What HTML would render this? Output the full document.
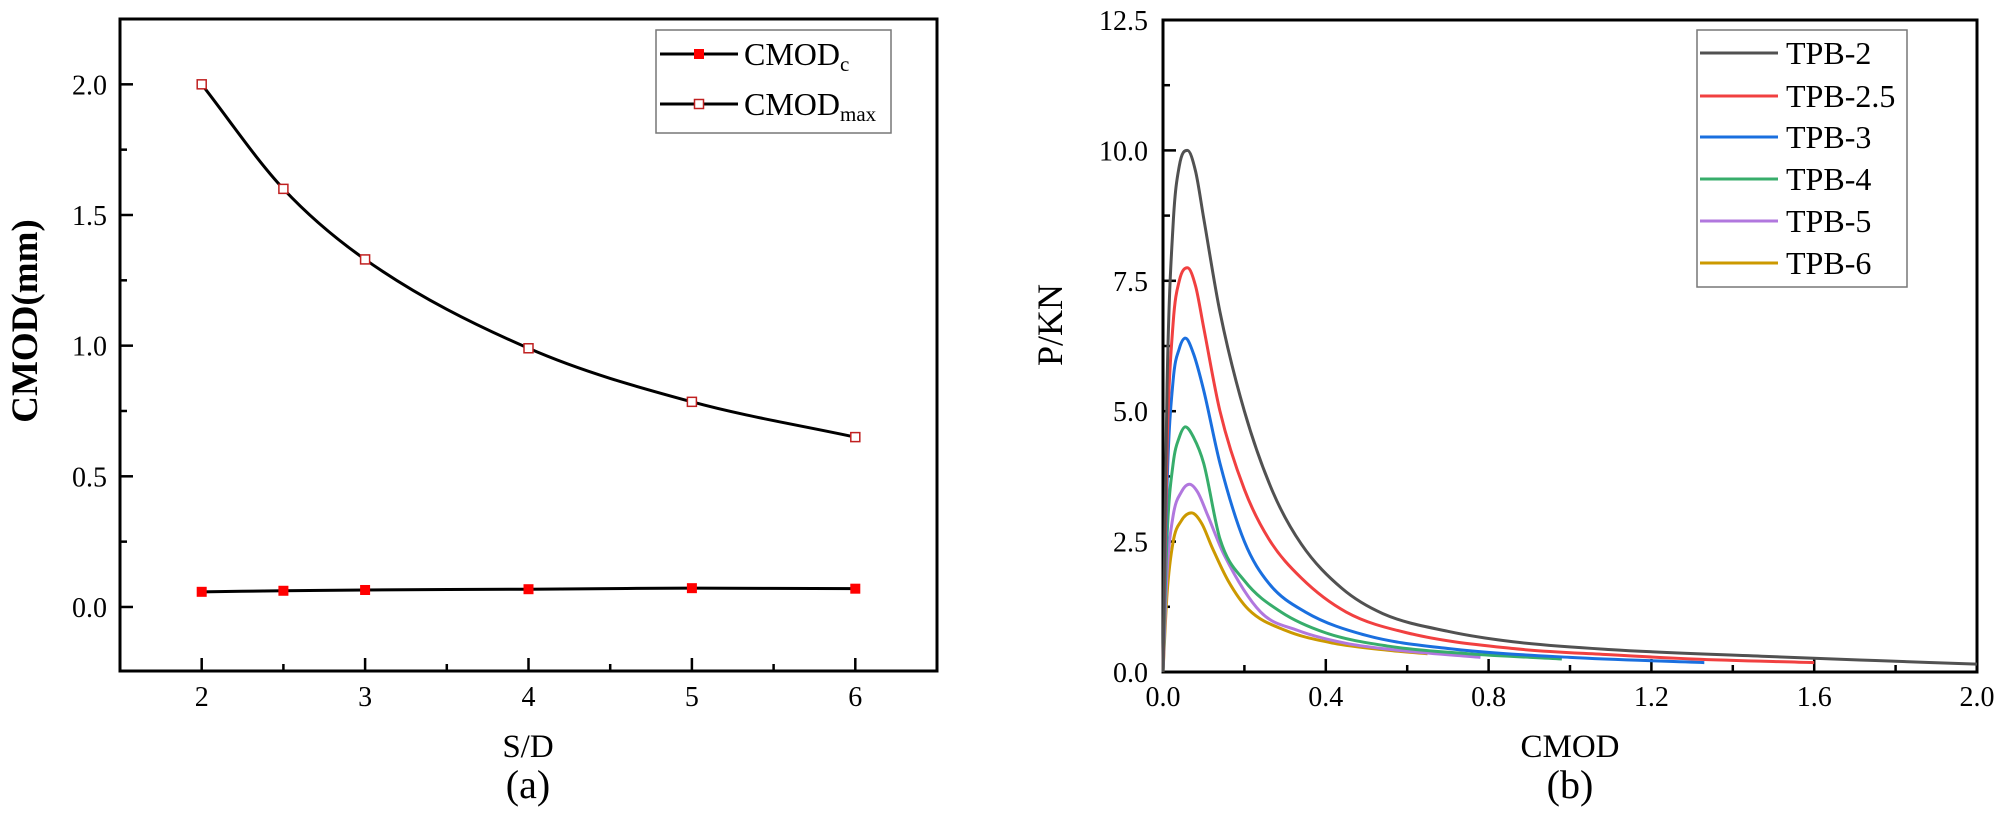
<!DOCTYPE html>
<html><head><meta charset="utf-8">
<style>
html,body{margin:0;padding:0;background:#fff;}
svg{display:block;}
svg text{font-family:"Liberation Serif","Times New Roman",serif;fill:#000;}
</style></head>
<body>
<svg id="chart" width="2000" height="814" viewBox="0 0 2000 814" xmlns="http://www.w3.org/2000/svg" font-family="Liberation Serif, serif"></svg>
<script>
// ---- Panel (a) data ----
const sdValues = [2, 2.5, 3, 4, 5, 6];
const cmodC = [0.058, 0.062, 0.065, 0.068, 0.072, 0.070];
const cmodMax = [2.0, 1.6, 1.33, 0.99, 0.785, 0.65];
const aXTicks = [2, 3, 4, 5, 6];
const aYTicks = [0.0, 0.5, 1.0, 1.5, 2.0];
const aYTickLabels = ["0.0", "0.5", "1.0", "1.5", "2.0"];

// ---- Panel (b) data ----
const bSeriesNames = ["TPB-2", "TPB-2.5", "TPB-3", "TPB-4", "TPB-5", "TPB-6"];
const tpb2X = [0, 0.01, 0.025, 0.04, 0.06, 0.08, 0.1, 0.14, 0.2, 0.27, 0.34, 0.44, 0.54, 0.7, 0.86, 1.1, 1.48, 1.75, 2.0];
const tpb2P = [0, 5.5, 8.6, 9.7, 10.0, 9.6, 8.7, 6.9, 5.0, 3.45, 2.45, 1.6, 1.12, 0.78, 0.58, 0.43, 0.3, 0.22, 0.15];
const tpb25X = [0, 0.01, 0.025, 0.04, 0.06, 0.08, 0.1, 0.14, 0.2, 0.26, 0.34, 0.45, 0.6, 0.86, 1.1, 1.3, 1.6];
const tpb25P = [0, 4.3, 6.7, 7.5, 7.75, 7.4, 6.6, 5.0, 3.5, 2.55, 1.8, 1.15, 0.75, 0.45, 0.33, 0.25, 0.18];
const tpb3X = [0, 0.01, 0.025, 0.04, 0.055, 0.075, 0.1, 0.14, 0.2, 0.26, 0.35, 0.5, 0.7, 1.0, 1.33];
const tpb3P = [0, 3.6, 5.6, 6.2, 6.4, 6.1, 5.4, 4.0, 2.5, 1.7, 1.15, 0.7, 0.45, 0.28, 0.18];
const tpb4X = [0, 0.01, 0.025, 0.04, 0.055, 0.075, 0.1, 0.14, 0.2, 0.29, 0.4, 0.55, 0.75, 0.98];
const tpb4P = [0, 2.6, 4.0, 4.5, 4.7, 4.5, 4.0, 2.55, 1.75, 1.15, 0.75, 0.5, 0.35, 0.25];
const tpb5X = [0, 0.01, 0.025, 0.045, 0.065, 0.085, 0.11, 0.15, 0.24, 0.33, 0.45, 0.6, 0.78];
const tpb5P = [0, 1.9, 3.0, 3.45, 3.6, 3.45, 3.0, 2.25, 1.15, 0.8, 0.55, 0.4, 0.28];
const tpb6X = [0, 0.01, 0.025, 0.045, 0.07, 0.095, 0.12, 0.16, 0.21, 0.3, 0.42, 0.55, 0.65];
const tpb6P = [0, 1.5, 2.5, 2.9, 3.05, 2.85, 2.4, 1.75, 1.2, 0.8, 0.55, 0.42, 0.35];
const bXTicks = [0, 0.4, 0.8, 1.2, 1.6, 2.0];
const bXTickLabels = ["0.0", "0.4", "0.8", "1.2", "1.6", "2.0"];
const bYTicks = [0, 2.5, 5.0, 7.5, 10.0, 12.5];
const bYTickLabels = ["0.0", "2.5", "5.0", "7.5", "10.0", "12.5"];

const NS = "http://www.w3.org/2000/svg";
const svg = document.getElementById("chart");
function mk(tag, attrs, parent) {
  const e = document.createElementNS(NS, tag);
  for (const k in attrs) e.setAttribute(k, attrs[k]);
  if (tag === "text") e.setAttribute("font-family", "Liberation Serif, serif");
  (parent || svg).appendChild(e);
  return e;
}
function monoPath(px, py) {
  const n = px.length;
  if (n < 2) return "";
  const d = [], m = new Array(n);
  for (let i = 0; i < n - 1; i++) d.push((py[i + 1] - py[i]) / (px[i + 1] - px[i]));
  m[0] = d[0]; m[n - 1] = d[n - 2];
  for (let i = 1; i < n - 1; i++) m[i] = (d[i - 1] * d[i] <= 0) ? 0 : (d[i - 1] + d[i]) / 2;
  for (let i = 0; i < n - 1; i++) {
    if (d[i] === 0) { m[i] = 0; m[i + 1] = 0; continue; }
    const a = m[i] / d[i], b = m[i + 1] / d[i], s = a * a + b * b;
    if (s > 9) { const t = 3 / Math.sqrt(s); m[i] = t * a * d[i]; m[i + 1] = t * b * d[i]; }
  }
  let p = "M" + px[0].toFixed(2) + "," + py[0].toFixed(2);
  for (let i = 0; i < n - 1; i++) {
    const h = px[i + 1] - px[i];
    p += " C" + (px[i] + h / 3).toFixed(2) + "," + (py[i] + m[i] * h / 3).toFixed(2) + " " +
      (px[i + 1] - h / 3).toFixed(2) + "," + (py[i + 1] - m[i + 1] * h / 3).toFixed(2) + " " +
      px[i + 1].toFixed(2) + "," + py[i + 1].toFixed(2);
  }
  return p;
}

// ===== Panel (a) =====
const A = {l: 120, r: 937, t: 19, b: 671, x0: 1.5, x1: 6.5, y0: -0.245, y1: 2.25};
const ax = v => A.l + (v - A.x0) / (A.x1 - A.x0) * (A.r - A.l);
const ay = v => A.b - (v - A.y0) / (A.y1 - A.y0) * (A.b - A.t);
const gA = mk("g", {});


const frameA = mk("rect", {x: A.l, y: A.t, width: A.r - A.l, height: A.b - A.t, fill: "none", stroke: "#000", "stroke-width": 3}, gA);


for (let v = 0; v <= 2.0001; v += 0.25) {
  const major = Math.abs(v * 2 - Math.round(v * 2)) < 1e-6;
  const t = mk("line", {x1: A.l, x2: A.l + (major ? 13 : 7), y1: ay(v), y2: ay(v), stroke: "#000", "stroke-width": 2.5}, gA);
  
  
}
aYTicks.forEach((v, i) => {
  const t = mk("text", {x: 107, y: ay(v) + 10, "text-anchor": "end", "font-size": 28}, gA);
  t.textContent = aYTickLabels[i];
  
  
});
for (let v = 2; v <= 6.0001; v += 0.5) {
  const major = Math.abs(v - Math.round(v)) < 1e-6;
  const t = mk("line", {x1: ax(v), x2: ax(v), y1: A.b, y2: A.b - (major ? 13 : 7), stroke: "#000", "stroke-width": 2.5}, gA);
  
  
}
aXTicks.forEach(v => {
  const t = mk("text", {x: ax(v), y: 706, "text-anchor": "middle", "font-size": 28}, gA);
  t.textContent = String(v);
  
  
});
const axT = mk("text", {x: 528, y: 757, "text-anchor": "middle", "font-size": 33}, gA);
axT.textContent = "S/D";


const ayT = mk("text", {x: 0, y: 0, "text-anchor": "middle", "font-size": 37, "font-weight": "bold", transform: "translate(37,321) rotate(-90)"}, gA);
ayT.textContent = "CMOD(mm)";


const capA = mk("text", {x: 528, y: 798, "text-anchor": "middle", "font-size": 40}, gA);
capA.textContent = "(a)";



const lineC = mk("path", {d: monoPath(sdValues.map(ax), cmodC.map(ay)), fill: "none", stroke: "#000", "stroke-width": 3}, gA);


const lineM = mk("path", {d: monoPath(sdValues.map(ax), cmodMax.map(ay)), fill: "none", stroke: "#000", "stroke-width": 3}, gA);


sdValues.forEach((v, i) => {
  const m1 = mk("rect", {x: ax(v) - 5, y: ay(cmodC[i]) - 5, width: 10, height: 10, fill: "#f00"}, gA);
  
  
  const m2 = mk("rect", {x: ax(v) - 4.5, y: ay(cmodMax[i]) - 4.5, width: 9, height: 9, fill: "#fff", stroke: "#c02020", "stroke-width": 1.5}, gA);
  
  
});
const legA = mk("g", {}, gA);


mk("rect", {x: 656, y: 30, width: 235, height: 103, fill: "#fff", stroke: "#777", "stroke-width": 1.5}, legA);
[["CMOD", "c", 54, true], ["CMOD", "max", 104, false]].forEach(r => {
  const e = mk("g", {}, legA);
  
  
  mk("line", {x1: 660, x2: 738, y1: r[2], y2: r[2], stroke: "#000", "stroke-width": 3}, e);
  if (r[3]) mk("rect", {x: 694, y: r[2] - 5, width: 10, height: 10, fill: "#f00"}, e);
  else mk("rect", {x: 694.5, y: r[2] - 4.5, width: 9, height: 9, fill: "#fff", stroke: "#c02020", "stroke-width": 1.5}, e);
  const t = mk("text", {x: 744, y: r[2] + 11, "font-size": 32}, e);
  t.textContent = r[0];
  const s = mk("tspan", {"font-size": 21, dy: 6}, t);
  s.textContent = r[1];
});

// ===== Panel (b) =====
const B = {l: 1163, r: 1977, t: 20, b: 672, x0: 0, x1: 2.0, y0: 0, y1: 12.5};
const bx = v => B.l + (v - B.x0) / (B.x1 - B.x0) * (B.r - B.l);
const by = v => B.b - (v - B.y0) / (B.y1 - B.y0) * (B.b - B.t);
const gB = mk("g", {});


const frameB = mk("rect", {x: B.l, y: B.t, width: B.r - B.l, height: B.b - B.t, fill: "none", stroke: "#000", "stroke-width": 3}, gB);


for (let v = 0; v <= 12.5001; v += 1.25) {
  const major = Math.abs(v / 2.5 - Math.round(v / 2.5)) < 1e-6;
  const t = mk("line", {x1: B.l, x2: B.l + (major ? 13 : 7), y1: by(v), y2: by(v), stroke: "#000", "stroke-width": 2.5}, gB);
  
  
}
bYTicks.forEach((v, i) => {
  const t = mk("text", {x: 1148, y: by(v) + 10, "text-anchor": "end", "font-size": 28}, gB);
  t.textContent = bYTickLabels[i];
  
  
});
for (let v = 0; v <= 2.0001; v += 0.2) {
  const major = Math.abs(v / 0.4 - Math.round(v / 0.4)) < 1e-6;
  const t = mk("line", {x1: bx(v), x2: bx(v), y1: B.b, y2: B.b - (major ? 13 : 7), stroke: "#000", "stroke-width": 2.5}, gB);
  
  
}
bXTicks.forEach((v, i) => {
  const t = mk("text", {x: bx(v), y: 706, "text-anchor": "middle", "font-size": 28}, gB);
  t.textContent = bXTickLabels[i];
  
  
});
const bxT = mk("text", {x: 1570, y: 757, "text-anchor": "middle", "font-size": 33}, gB);
bxT.textContent = "CMOD";


const byT = mk("text", {x: 0, y: 0, "text-anchor": "middle", "font-size": 36, transform: "translate(1062,325) rotate(-90)"}, gB);
byT.textContent = "P/KN";


const capB = mk("text", {x: 1570, y: 798, "text-anchor": "middle", "font-size": 40}, gB);
capB.textContent = "(b)";



const bColors = ["#515151", "#F14040", "#1A6FDF", "#37AD6B", "#B177DE", "#CC9900"];
const bXs = [tpb2X, tpb25X, tpb3X, tpb4X, tpb5X, tpb6X];
const bPs = [tpb2P, tpb25P, tpb3P, tpb4P, tpb5P, tpb6P];
for (let s = 5; s >= 0; s--) {
  const p = mk("path", {d: monoPath(bXs[s].map(bx), bPs[s].map(by)), fill: "none", stroke: bColors[s], "stroke-width": 3}, gB);
  
  
}
const legB = mk("g", {}, gB);


mk("rect", {x: 1697, y: 30, width: 210, height: 257, fill: "#fff", stroke: "#777", "stroke-width": 1.5}, legB);
const legRows = [53, 96, 137, 179, 221, 263];
bSeriesNames.forEach((n, i) => {
  const e = mk("g", {}, legB);
  
  
  mk("line", {x1: 1700, x2: 1778, y1: legRows[i], y2: legRows[i], stroke: bColors[i], "stroke-width": 3}, e);
  const t = mk("text", {x: 1786, y: legRows[i] + 11, "font-size": 32}, e);
  t.textContent = n;
});
</script>
</body></html>
